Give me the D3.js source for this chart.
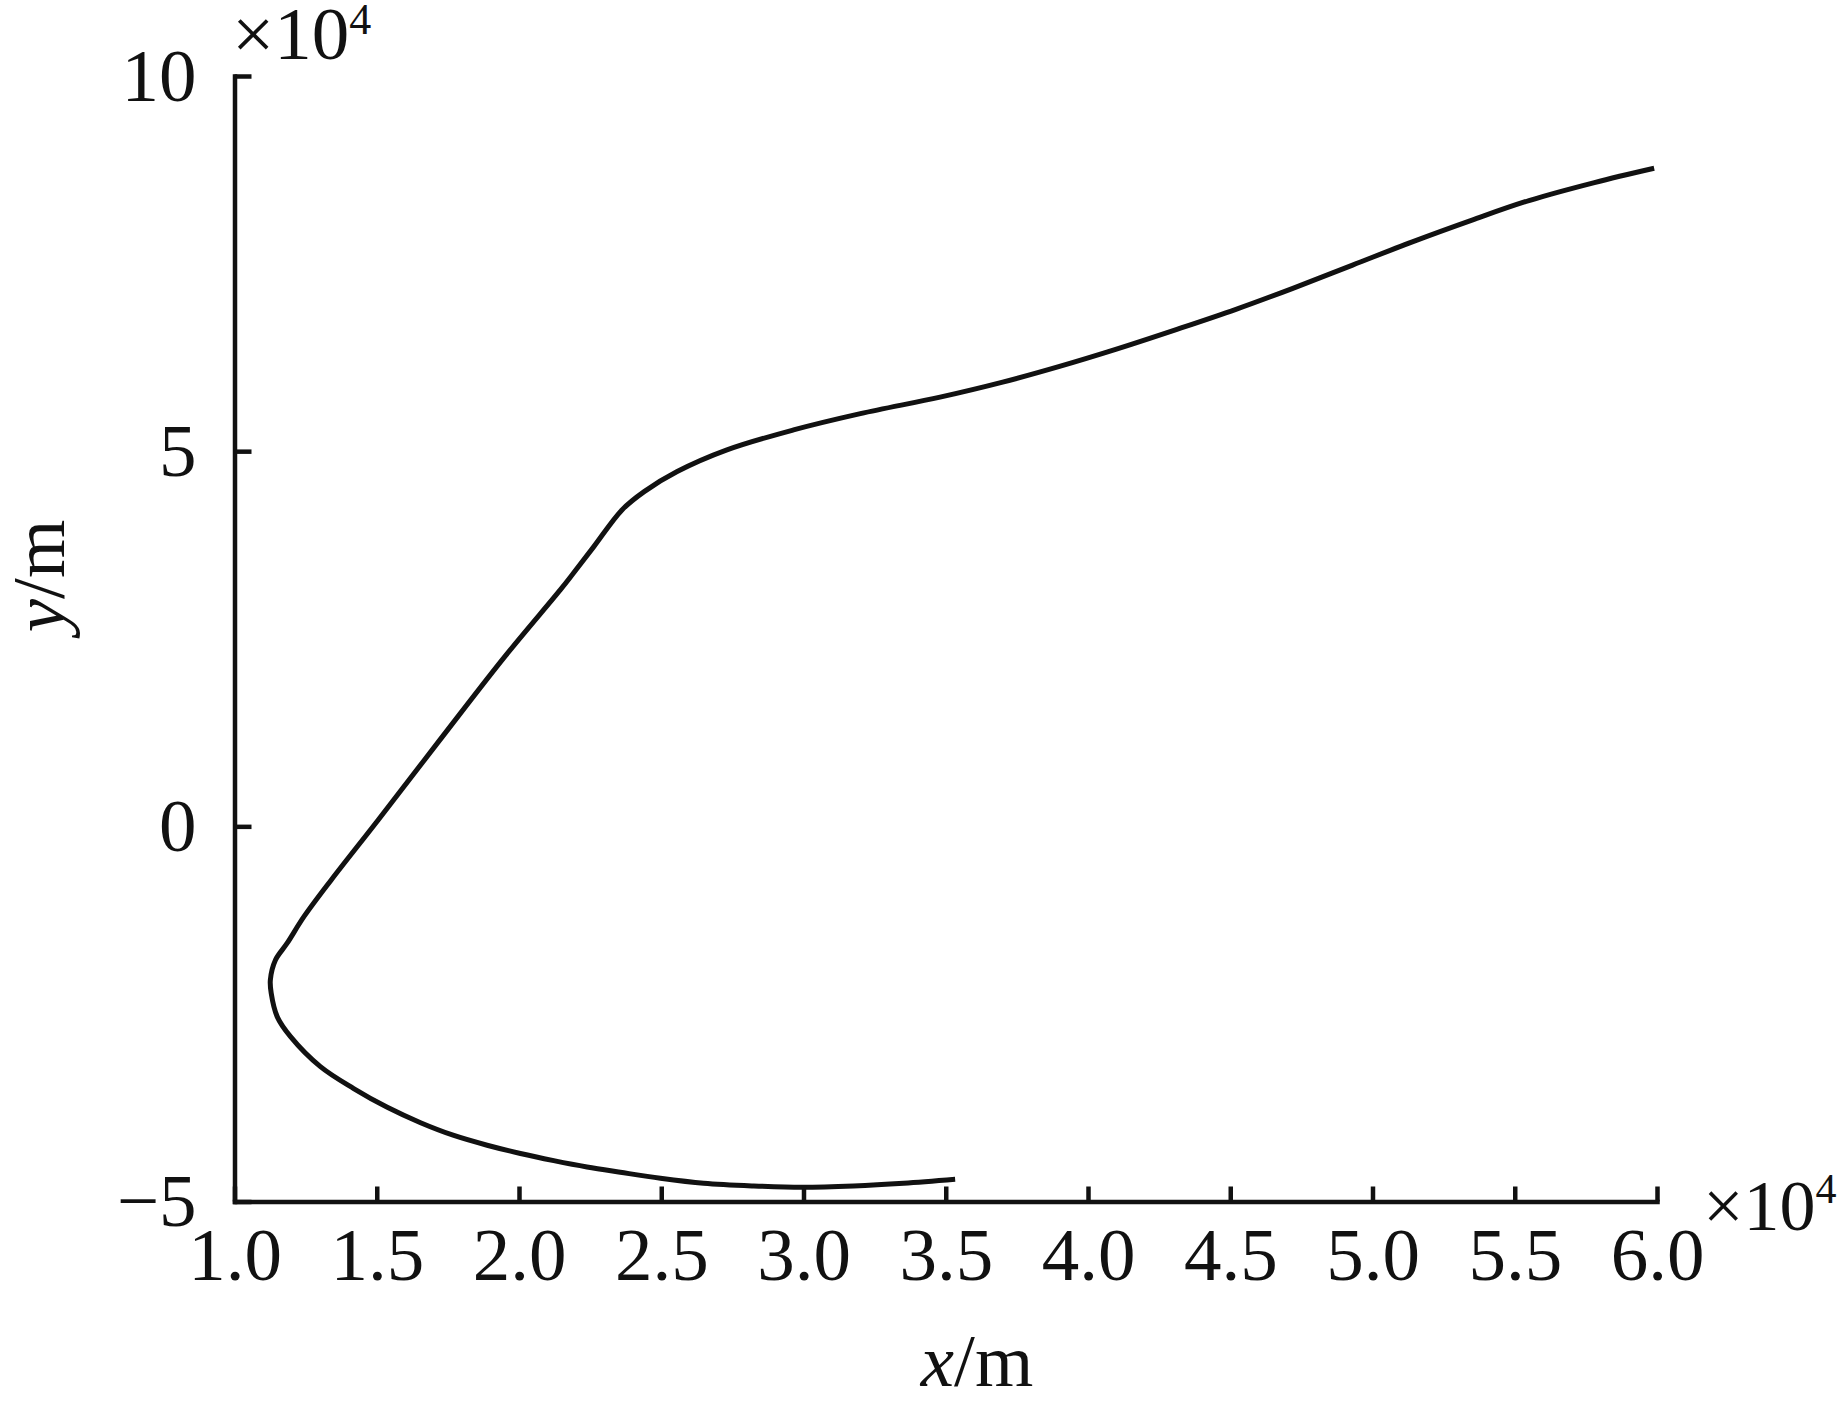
<!DOCTYPE html>
<html>
<head>
<meta charset="utf-8">
<script src="https://cdn.jsdelivr.net/npm/d3@7"></script>
<style>
  html, body { margin: 0; padding: 0; background: #fff; }
  svg { display: block; }
  text { font-family: "Liberation Serif", "Times New Roman", serif; fill: #111; }
</style>
</head>
<body>
<svg id="chart" width="1843" height="1406"></svg>
<script>
// ---- data (units of 1e4 m) ----
const trajX = [3.533, 3.352, 3.176, 2.995, 2.825, 2.649, 2.497, 2.356, 2.239, 2.122, 2.005, 1.888, 1.771, 1.654, 1.537, 1.419, 1.302, 1.197, 1.150, 1.129, 1.126, 1.144, 1.185, 1.244, 1.340, 1.505, 1.722, 1.950, 2.145, 2.191, 2.263, 2.362, 2.440, 2.556, 2.731, 2.965, 3.200, 3.480, 3.700, 3.900, 4.100, 4.310, 4.520, 4.720, 4.930, 5.140, 5.350, 5.550, 5.780, 5.990];
const trajY = [-4.704, -4.757, -4.793, -4.810, -4.793, -4.757, -4.690, -4.610, -4.540, -4.455, -4.360, -4.250, -4.120, -3.950, -3.745, -3.495, -3.203, -2.803, -2.536, -2.224, -2.047, -1.781, -1.558, -1.204, -0.714, 0.085, 1.152, 2.262, 3.151, 3.373, 3.728, 4.217, 4.461, 4.728, 5.017, 5.283, 5.500, 5.720, 5.920, 6.130, 6.360, 6.620, 6.890, 7.170, 7.480, 7.790, 8.080, 8.340, 8.580, 8.770];
const xTicks = [1.0, 1.5, 2.0, 2.5, 3.0, 3.5, 4.0, 4.5, 5.0, 5.5, 6.0];
const xTickLabels = ["1.0", "1.5", "2.0", "2.5", "3.0", "3.5", "4.0", "4.5", "5.0", "5.5", "6.0"];
const yTicks = [-5, 0, 5, 10];
const yTickLabels = ["\u22125", "0", "5", "10"];
const xLabelVar = "x", yLabelVar = "y", unitLabel = "/m";
const expBase = "\u00d710", expPow = "4";

// ---- layout ----
const mLeft = 234.5, mRight = 1657, mTop = 76, mBottom = 1201.5;
const svg = d3.select("#chart");
const x = d3.scaleLinear().domain([1, 6]).range([mLeft, mRight]);
const y = d3.scaleLinear().domain([-5, 10]).range([mBottom, mTop]);

const FS = 75;

// curve
const pts = trajX.map((v, i) => [v, trajY[i]]);
svg.append("path")
  .datum(pts)
  .attr("fill", "none")
  .attr("stroke", "#111")
  .attr("stroke-width", 5)
  .attr("stroke-linejoin", "round")
  .attr("stroke-linecap", "butt")
  .attr("d", d3.line().x(d => x(d[0])).y(d => y(d[1])).curve(d3.curveCatmullRom.alpha(0.5)));

// x axis
const xAxis = d3.axisBottom(x)
  .tickValues(xTicks)
  .tickFormat((d, i) => xTickLabels[i])
  .tickSizeInner(-15)
  .tickSizeOuter(0)
  .tickPadding(25);
const gx = svg.append("g").attr("transform", `translate(0,${mBottom})`).call(xAxis);

// y axis
const yAxis = d3.axisLeft(y)
  .tickValues(yTicks)
  .tickFormat((d, i) => yTickLabels[i])
  .tickSizeInner(-17)
  .tickSizeOuter(0)
  .tickPadding(38);
const gy = svg.append("g").attr("transform", `translate(${mLeft},0)`).call(yAxis);

[gx, gy].forEach(g => {
  g.select(".domain").attr("stroke", "#111").attr("stroke-width", 4.5).attr("stroke-linecap", "square");
  g.selectAll(".tick line").attr("stroke", "#111").attr("stroke-width", 4.5);
  g.selectAll(".tick text")
    .attr("font-family", "Liberation Serif, Times New Roman, serif")
    .attr("font-size", FS)
    .attr("fill", "#111");
});

// exponent labels
function expLabel(xp, yp, fs, fs2, rise) {
  const t = svg.append("text").attr("x", xp).attr("y", yp).attr("font-size", fs);
  t.append("tspan").text(expBase);
  t.append("tspan").attr("font-size", fs2).attr("dy", -rise).text(expPow);
}
expLabel(232, 59, FS, 44, 25);
expLabel(1703, 1230, 72, 42, 27);

// axis titles
const xt = svg.append("text")
  .attr("x", 977).attr("y", 1386)
  .attr("text-anchor", "middle")
  .attr("font-size", FS);
xt.append("tspan").attr("font-style", "italic").text(xLabelVar);
xt.append("tspan").text(unitLabel);

const yt = svg.append("text")
  .attr("transform", "translate(64,576) rotate(-90)")
  .attr("text-anchor", "middle")
  .attr("font-size", FS);
yt.append("tspan").attr("font-style", "italic").text(yLabelVar);
yt.append("tspan").text(unitLabel);
</script>
</body>
</html>
